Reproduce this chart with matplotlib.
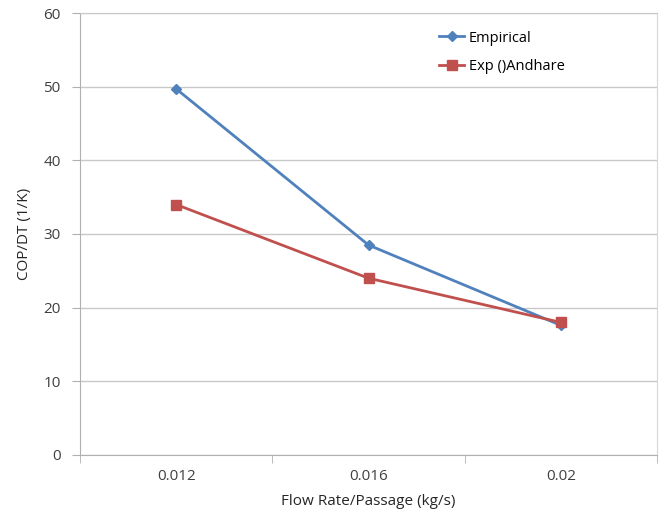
import matplotlib.pyplot as plt

plt.rcParams.update({"font.family": ["Open Sans", "DejaVu Sans"], "font.size": 10})

# %% Data

categories = ["0.012", "0.016", "0.02"]
empirical = [49.7, 28.5, 17.6]
exp_andhare = [34.0, 24.0, 18.0]

# %% Plot

fig = plt.figure(figsize=(6.6, 5.14), dpi=100)
ax = fig.add_axes([0.1212, 0.1148, 0.8743, 0.8599])

x = list(range(len(categories)))
ax.plot(x, empirical, color="#4F81BD", lw=2, marker="D", ms=5, label="Empirical", zorder=3)
ax.plot(x, exp_andhare, color="#C0504D", lw=2, marker="s", ms=6.5, label="Exp ()Andhare", zorder=3)

ax.set_xlim(-0.5, len(categories) - 0.5)
ax.set_ylim(0, 60)
ax.set_yticks(range(0, 61, 10))
ax.set_xticks(x)
ax.set_xticklabels(categories)
# tick marks at category boundaries
ax.set_xticks([i - 0.5 for i in range(len(categories) + 1)], minor=True)

ax.grid(axis="y", color="#c8c8c8", lw=1, zorder=0)

ax.tick_params(axis="x", which="major", length=0, pad=10, labelsize=11)
ax.tick_params(axis="x", which="minor", length=6, color="#b0b0b0")
ax.tick_params(axis="y", length=6, color="#b0b0b0", pad=8, labelsize=11)
for lab in ax.get_xticklabels() + ax.get_yticklabels():
    lab.set_color("#404040")

for side in ["left", "bottom"]:
    ax.spines[side].set_color("#b0b0b0")
ax.spines["top"].set_color("#c8c8c8")
ax.spines["right"].set_color("#c6d9f0")

ax.set_xlabel("Flow Rate/Passage (kg/s)", fontsize=11, color="#262626", labelpad=7)
ax.set_ylabel("COP/DT (1/K)", fontsize=11, color="#262626", labelpad=8)

ax.legend(loc="upper left", bbox_to_anchor=(0.6, 0.99), frameon=False, handlelength=1.7,
          handletextpad=0.3, labelspacing=0.9, fontsize=10.5)

fig.savefig("out.png", dpi=100)
